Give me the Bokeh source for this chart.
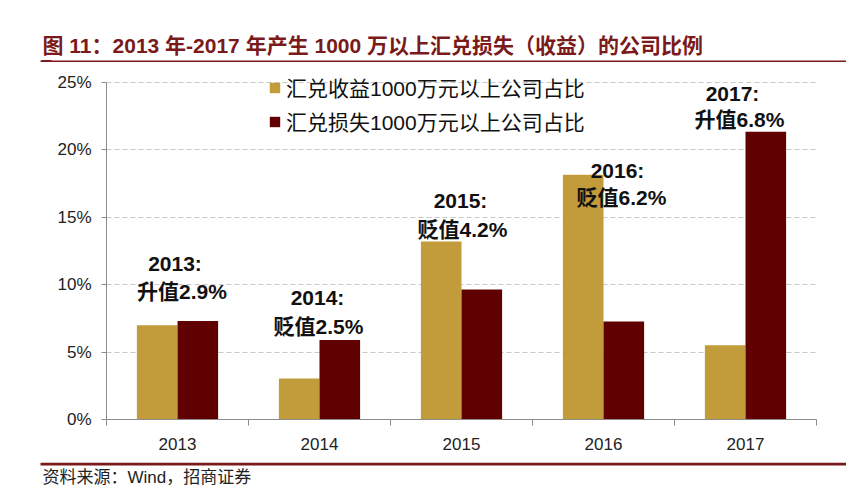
from bokeh.plotting import figure
from bokeh.models import (Range1d, FixedTicker, PrintfTickFormatter, Label,
                          ColumnDataSource, Legend, LegendItem)
from bokeh.layouts import column
from bokeh.transform import dodge
from bokeh.core.properties import value
from bokeh.embed import file_html
from bokeh.resources import INLINE

# ---- data ----
years = ["2013", "2014", "2015", "2016", "2017"]
gain_pct = [7.0, 3.05, 13.2, 18.15, 5.5]      # 汇兑收益1000万元以上公司占比 (%)
loss_pct = [7.3, 5.9, 9.65, 7.27, 21.35]      # 汇兑损失1000万元以上公司占比 (%)
rmb_change = ["升值2.9%", "贬值2.5%", "贬值4.2%", "贬值6.2%", "升值6.8%"]
y_ticks = [0, 5, 10, 15, 20, 25]

title_text = "图 11：2013 年-2017 年产生 1000 万以上汇兑损失（收益）的公司比例"
source_text = "资料来源：Wind，招商证券"
gain_name = "汇兑收益1000万元以上公司占比"
loss_name = "汇兑损失1000万元以上公司占比"

GOLD = "#C29B3A"
DRED = "#600000"
TRED = "#7A1A1A"
FONT = "Liberation Sans, Noto Sans CJK SC"
W = 846


def deco_fig(height, y_top):
    f = figure(width=W, height=height, output_backend="svg", toolbar_location=None,
               x_range=Range1d(0, W), y_range=Range1d(y_top + height, y_top),
               x_axis_type=None, y_axis_type=None, min_border=0,
               min_border_left=0, min_border_right=0, min_border_top=0, min_border_bottom=0)
    f.outline_line_color = None
    f.grid.grid_line_color = None
    f.border_fill_color = "white"
    f.background_fill_color = "white"
    if "frame_align" in f.properties():
        f.frame_align = False
    return f


# ---- header ----
head = deco_fig(62, 0)
head.text(x=[42], y=[45], text=[title_text], text_align="left", text_baseline="middle",
          text_font=value(FONT), text_font_size="21px", text_font_style="bold",
          text_color=TRED)
head.quad(left=[40], right=[848], top=[60], bottom=[62], fill_color=TRED, line_color=None)
head.quad(left=[41], right=[51], top=[59.5], bottom=[63.5], fill_color=TRED, line_color=None)

# ---- main chart ----
H = 400          # page rows 62..462
p = figure(width=W, height=H, output_backend="svg", toolbar_location=None,
           x_range=Range1d(0, 5), y_range=Range1d(0, 25.89),
           min_border_left=106, min_border_right=30, min_border_top=8, min_border_bottom=43)
p.outline_line_color = None
p.background_fill_color = "white"
p.border_fill_color = "white"
if "frame_align" in p.properties():
    p.frame_align = False

xs = [i + 0.5 for i in range(len(years))]
src = ColumnDataSource(dict(x=xs, gain=gain_pct, loss=loss_pct))
off = 0.143
bw = 0.286
r_gain = p.vbar(x=dodge("x", -off), top="gain", width=bw, source=src,
                fill_color=GOLD, line_color=None)
r_loss = p.vbar(x=dodge("x", off), top="loss", width=bw, source=src,
                fill_color=DRED, line_color=None)

AX = "#8c8c8c"
p.xaxis.ticker = FixedTicker(ticks=xs, minor_ticks=list(range(len(years) + 1)))
p.xaxis.major_label_overrides = {x: y for x, y in zip(xs, years)}
p.xaxis.major_tick_line_color = None
p.xaxis.major_tick_out = 0
p.xaxis.major_tick_in = 0
p.xaxis.minor_tick_in = 0
p.xaxis.minor_tick_out = 6
p.xaxis.minor_tick_line_color = AX
p.xaxis.axis_line_color = AX
p.xaxis.major_label_text_font = FONT
p.xaxis.major_label_text_font_size = "17px"
p.xaxis.major_label_text_color = "#222222"
p.xaxis.major_label_standoff = 12

p.yaxis.ticker = FixedTicker(ticks=y_ticks)
p.yaxis.bounds = (0, 25)
p.yaxis.formatter = PrintfTickFormatter(format="%d%%")
p.yaxis.minor_tick_line_color = None
p.yaxis.major_tick_in = 0
p.yaxis.major_tick_out = 5
p.yaxis.major_tick_line_color = AX
p.yaxis.axis_line_color = AX
p.yaxis.major_label_text_font = FONT
p.yaxis.major_label_text_font_size = "17px"
p.yaxis.major_label_text_color = "#222222"
p.yaxis.major_label_standoff = 10

p.xgrid.grid_line_color = None
p.ygrid.ticker = FixedTicker(ticks=y_ticks[1:])
p.ygrid.grid_line_color = "#c8c8c8"
p.ygrid.grid_line_dash = "5 3"

legend = Legend(items=[LegendItem(label=gain_name, renderers=[r_gain]),
                       LegendItem(label=loss_name, renderers=[r_loss])],
                location=(162, 283), orientation="vertical")
legend.background_fill_alpha = 0
legend.border_line_color = None
legend.glyph_width = 13
legend.glyph_height = 13
legend.label_height = 20
legend.spacing = 4
legend.padding = 0
legend.margin = 0
legend.label_standoff = 5
legend.label_text_font = FONT
legend.label_text_font_size = "21px"
legend.label_text_color = "#111111"
p.add_layout(legend, "center")


def dx(px):
    return (px - 106) / 142.0


def dy(py):
    return (419 - py) / 13.48


# year / RMB-change annotations, placed by page pixel
l1_px = [(174.5, 263), (317, 297), (460, 200), (617, 170), (732, 93.5)]
l2_px = [(181.5, 291.5), (318, 326), (462, 229), (621, 197), (739, 119.5)]
for i in range(len(years)):
    for (px, py), t in ((l1_px[i], years[i] + ":"), (l2_px[i], rmb_change[i])):
        p.add_layout(Label(x=dx(px), y=dy(py), text=t, text_align="center",
                           text_baseline="middle", text_font=FONT,
                           text_font_size="21px", text_font_style="bold",
                           text_color="#111111"))

# ---- footer ----
foot = deco_fig(33, 462)
foot.quad(left=[40], right=[848], top=[462], bottom=[465], fill_color=TRED, line_color=None)
foot.text(x=[42], y=[477], text=[source_text], text_align="left", text_baseline="middle",
          text_font=value(FONT), text_font_size="17px", text_color="#222222")

layout = column(head, p, foot, spacing=0)
open("out.html", "w").write(file_html(layout, INLINE))
